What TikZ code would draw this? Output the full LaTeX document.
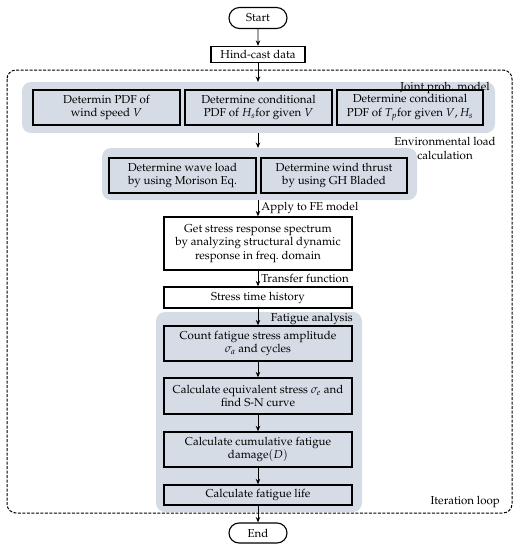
\documentclass[tikz,border=0pt]{standalone}
\usepackage[T1]{fontenc}
\usepackage{mathpazo}
\usetikzlibrary{arrows.meta,shapes.misc}
\definecolor{panelgray}{HTML}{D5DCE5}
\tikzset{
  box/.style={draw=black,line width=1.3pt,align=center,inner sep=1pt,font=\fontsize{11.5}{13.5}\selectfont},
  inbox/.style={box,fill=panelgray},
  term/.style={draw=black,line width=1.1pt,rounded rectangle,minimum width=60pt,minimum height=21pt,inner sep=1pt,font=\fontsize{11.5}{13.5}\selectfont},
  panel/.style={fill=panelgray,rounded corners=9pt},
  lbl/.style={font=\fontsize{11.5}{13.5}\selectfont,inner sep=0pt,align=center},
  arr/.style={line width=0.9pt,-{Stealth[length=5.5pt,width=4.5pt]}},
}
\begin{document}
\begin{tikzpicture}[x=1pt,y=-1pt]
\useasboundingbox (0,0) rectangle (518,550);
% outer dashed loop
\draw[line width=1pt,rounded corners=9pt,dash pattern=on 3pt off 1.5pt] (7,70) rectangle (512,513);
% panels
\fill[panel] (22,82) rectangle (495,133);
\fill[panel] (102,148) rectangle (417,200);
\fill[panel] (156,312) rectangle (362,512);
\coordinate (p1t) at (258,82);
\coordinate (p1b) at (258,133);
\coordinate (p2t) at (258,148);
\coordinate (p2b) at (258,200);
% nodes
\node[term] (start) at (258,18) {Start};
\node[box,fill=white,minimum width=94pt,minimum height=16pt] (hind) at (258,54.5) {Hind-cast data};
\node[inbox,minimum width=147pt,minimum height=35pt] (b1) at (106.5,107.5) {Determin PDF of\\wind speed $V$};
\node[inbox,minimum width=147pt,minimum height=35pt] (b2) at (258.5,107.5) {Determine conditional\\PDF of $H_s$for given $V$};
\node[inbox,minimum width=146pt,minimum height=35pt] (b3) at (410,107.5) {Determine conditional\\PDF of $T_p$for given $V,H_s$};
\node[inbox,minimum width=147pt,minimum height=35pt] (w1) at (182.5,175.5) {Determine wave load\\by using Morison Eq.};
\node[inbox,minimum width=146pt,minimum height=35pt] (w2) at (334,175.5) {Determine wind thrust\\by using GH Bladed};
\node[box,fill=white,minimum width=188pt,minimum height=53pt] (gs) at (258,243.5) {Get stress response spectrum\\by analyzing structural dynamic\\response in freq.\ domain};
\node[box,fill=white,minimum width=188pt,minimum height=21pt] (sth) at (258,297.5) {Stress time history};
\node[inbox,minimum width=188pt,minimum height=35pt] (c1) at (258,343.5) {Count fatigue stress amplitude\\$\sigma_a$ and cycles};
\node[inbox,minimum width=188pt,minimum height=36pt] (c2) at (258,396) {Calculate equivalent stress $\sigma_e$ and\\find S-N curve};
\node[inbox,minimum width=188pt,minimum height=35pt] (c3) at (258,449.5) {Calculate cumulative fatigue\\damage$(D)$};
\node[inbox,minimum width=188pt,minimum height=20pt] (c4) at (258,495) {Calculate fatigue life};
\node[term,minimum height=20pt] (end) at (258,533) {End};
% labels
\node[lbl,anchor=east] (l1) at (490,88) {Joint prob. model};
\node[lbl] (l2) at (445,148.5) {Environmental load\\calculation};
\node[lbl,anchor=east] (l3) at (353,319) {Fatigue analysis};
\node[lbl,anchor=east] (l4) at (500,502) {Iteration loop};
% arrows
\draw[arr] (start) -- (hind);
\draw[arr] (hind) -- (p1t);
\draw[arr] (p1b) -- (p2t);
\draw[arr] (p2b) -- node[lbl,anchor=west,xshift=3pt] (l5) {Apply to FE model} (gs);
\draw[arr] (gs) -- node[lbl,anchor=west,xshift=3pt] (l6) {Transfer function} (sth);
\draw[arr] (sth) -- (c1);
\draw[arr] (c1) -- (c2);
\draw[arr] (c2) -- (c3);
\draw[arr] (c3) -- (c4);
\draw[arr] (c4) -- (end);
\end{tikzpicture}
\end{document}
